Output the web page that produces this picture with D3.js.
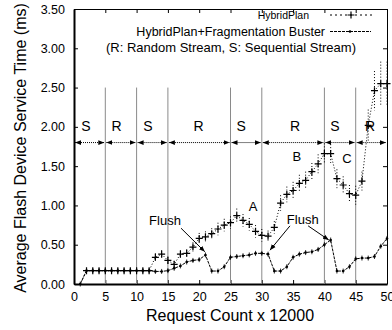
<!DOCTYPE html>
<html>
<head>
<meta charset="utf-8">
<script src="https://d3js.org/d3.v7.min.js"></script>
<style>
  body { margin: 0; background: #fff; }
  svg { font-family: "Liberation Sans", Arial, sans-serif; }
</style>
</head>
<body>
<div id="chart"></div>
<script>
// x = request count (x 12000)
var requestCount = [1,2,3,4,5,6,7,8,9,10,11,12,13,14,15,16,17,18,19,20,
                    21,22,23,24,25,26,27,28,29,30,31,32,33,34,35,36,37,38,39,40,
                    41,42,43,44,45,46,47,48,49,50];
// average service time (ms)
var hybridPlan = [0,0.17,0.17,0.17,0.17,0.17,0.17,0.17,0.17,0.17,0.17,0.17,0.34,0.38,0.30,0.25,0.38,0.39,0.47,0.58,
                  0.60,0.64,0.70,0.75,0.78,0.87,0.81,0.76,0.67,0.62,0.61,0.72,1.03,1.14,1.19,1.28,1.32,1.43,1.53,1.66,
                  1.66,1.34,1.26,1.15,1.13,1.31,2.02,2.46,2.55,2.55];
var hybridPlanErr = [0,0,0,0,0,0,0,0,0,0,0,0,0.05,0.05,0.05,0.04,0.05,0.05,0.06,0.07,
                     0.07,0.07,0.08,0.08,0.08,0.09,0.08,0.08,0.08,0.08,0.07,0.08,0.10,0.10,0.11,0.11,0.11,0.11,0.12,0.13,
                     0.12,0.12,0.11,0.11,0.12,0.12,0.20,0.25,0.28,0.28];
var fragBuster = [0,0.17,0.17,0.17,0.17,0.17,0.17,0.17,0.17,0.17,0.17,0.17,0.16,0.16,0.17,0.20,0.23,0.28,0.30,0.31,
                  0.37,0.165,0.165,0.22,0.34,0.35,0.36,0.37,0.39,0.39,0.38,0.165,0.165,0.22,0.34,0.38,0.40,0.41,0.44,0.50,
                  0.56,0.165,0.165,0.22,0.32,0.33,0.33,0.35,0.48,0.58];

var xTicks = [0,5,10,15,20,25,30,35,40,45,50];
var yTicks = [0,0.5,1,1.5,2,2.5,3,3.5];

// stream phases
var streamBounds = [0,5,10,15,25,30,40,45,50];
var streamTypes = ["S","R","S","R","S","R","S","R"];
var streamLabelAt = [1.9,6.8,11.8,19.9,26.7,35.3,41.7,47.3];

// annotations (data units)
var noteText = ["Flush","Flush","A","B","C"];
var noteX = [12.0,34.0,28.6,35.6,43.6];
var noteY = [0.75,0.76,0.935,1.56,1.54];
var flushArrows = [[17.1,0.71,20.9,0.41],[34.5,0.74,31.3,0.43],[37.4,0.74,40.7,0.56]];

var margin = {top: 9, right: 5, bottom: 46, left: 74},
    width = 392 - margin.left - margin.right,
    height = 330 - margin.top - margin.bottom;

var root = d3.select("#chart").append("svg")
    .attr("width", 392)
    .attr("height", 330);

var defs = root.append("defs");
defs.append("marker").attr("id", "head")
    .attr("viewBox", "0 0 10 10").attr("refX", 10).attr("refY", 5)
    .attr("markerWidth", 6).attr("markerHeight", 6).attr("markerUnits", "userSpaceOnUse")
    .attr("orient", "auto-start-reverse")
  .append("path").attr("d", "M0,1L10,5L0,9Z").attr("fill", "#000");

var svg = root.append("g")
    .attr("transform", "translate(" + margin.left + "," + margin.top + ")");

var x = d3.scaleLinear().domain([0, 50]).range([0, width]);
var y = d3.scaleLinear().domain([0, 3.5]).range([height, 0]);

// axes (gnuplot style, ticks inward and mirrored)
svg.append("g")
    .attr("transform", "translate(0," + height + ")")
    .call(d3.axisBottom(x).tickValues(xTicks).tickSizeInner(-4).tickSizeOuter(0).tickPadding(8))
    .call(function(g) { g.select(".domain").attr("stroke-width", 2); });
svg.append("g")
    .call(d3.axisLeft(y).tickValues(yTicks).tickFormat(d3.format(".2f")).tickSizeInner(-4).tickSizeOuter(0).tickPadding(9))
    .call(function(g) { g.select(".domain").attr("stroke-width", 2); });
svg.append("g")
    .call(d3.axisTop(x).tickValues(xTicks).tickSizeInner(-4).tickSizeOuter(0).tickFormat(""));
svg.append("g")
    .attr("transform", "translate(" + width + ",0)")
    .call(d3.axisRight(y).tickValues(yTicks).tickSizeInner(-4).tickSizeOuter(0).tickFormat(""));

svg.selectAll(".tick text")
    .attr("font-size", "12.5px")
    .attr("font-family", "Liberation Sans, Arial, sans-serif")
    .attr("fill", "#000");

// axis titles
root.append("text")
    .attr("x", 230).attr("y", 321)
    .attr("text-anchor", "middle")
    .style("font-size", "16px")
    .text("Request Count x 12000");
root.append("text")
    .attr("transform", "translate(26,148)rotate(-90)")
    .attr("text-anchor", "middle")
    .style("font-size", "16px")
    .text("Average Flash Device Service Time (ms)");

// stream phase dividers
svg.selectAll(".divider")
    .data(streamBounds.slice(1, -1))
  .enter().append("line")
    .attr("x1", function(d) { return x(d); })
    .attr("x2", function(d) { return x(d); })
    .attr("y1", y(2.5))
    .attr("y2", y(0))
    .attr("stroke", "#8a8a8a")
    .attr("stroke-width", 1);

// double headed arrows per phase
svg.selectAll(".phase")
    .data(streamTypes)
  .enter().append("line")
    .attr("x1", function(d, i) { return x(streamBounds[i]) + 1; })
    .attr("x2", function(d, i) { return x(streamBounds[i + 1]) - 1; })
    .attr("y1", y(1.8))
    .attr("y2", y(1.8))
    .attr("stroke", "#000")
    .attr("stroke-width", 1)
    .attr("stroke-dasharray", "1,1")
    .attr("marker-start", "url(#head)")
    .attr("marker-end", "url(#head)");

svg.selectAll(".phaseLabel")
    .data(streamTypes)
  .enter().append("text")
    .attr("x", function(d, i) { return x(streamLabelAt[i]); })
    .attr("y", y(1.8) - 12)
    .attr("text-anchor", "middle")
    .style("font-size", "14px")
    .text(function(d) { return d; });

// HybridPlan + Fragmentation Buster
var fbLine = d3.line()
    .x(function(d, i) { return x(requestCount[i]); })
    .y(function(d) { return y(d); });
svg.append("path")
    .datum(fragBuster)
    .attr("fill", "none")
    .attr("stroke", "#000")
    .attr("stroke-width", 1)
    .attr("stroke-dasharray", "3,1")
    .attr("d", fbLine);
svg.selectAll(".fbTick")
    .data(fragBuster)
  .enter().append("line")
    .attr("x1", function(d, i) { return x(requestCount[i]); })
    .attr("x2", function(d, i) { return x(requestCount[i]); })
    .attr("y1", function(d) { return y(d) - 2.5; })
    .attr("y2", function(d) { return y(d) + 2.5; })
    .attr("stroke", "#000")
    .attr("stroke-width", 0.8);
svg.selectAll(".fbDot")
    .data(fragBuster)
  .enter().append("circle")
    .attr("cx", function(d, i) { return x(requestCount[i]); })
    .attr("cy", function(d) { return y(d); })
    .attr("r", 1.3)
    .attr("fill", "#000");

// HybridPlan
var hpLine = d3.line()
    .x(function(d, i) { return x(requestCount[i]); })
    .y(function(d) { return y(d); });
svg.append("path")
    .datum(hybridPlan)
    .attr("fill", "none")
    .attr("stroke", "#000")
    .attr("stroke-width", 1)
    .attr("stroke-dasharray", "1,2")
    .attr("d", hpLine);
svg.selectAll(".hpErr")
    .data(hybridPlan)
  .enter().append("line")
    .attr("x1", function(d, i) { return x(requestCount[i]); })
    .attr("x2", function(d, i) { return x(requestCount[i]); })
    .attr("y1", function(d, i) { return y(d + hybridPlanErr[i]); })
    .attr("y2", function(d, i) { return y(d - hybridPlanErr[i]); })
    .attr("stroke", "#000")
    .attr("stroke-width", 1)
    .attr("stroke-dasharray", "1,2");
svg.selectAll(".hpMark")
    .data(hybridPlan.slice(1))
  .enter().append("path")
    .attr("transform", function(d, i) { return "translate(" + x(requestCount[i + 1]) + "," + y(d) + ")"; })
    .attr("d", "M-3.5,0H3.5M0,-3.5V3.5")
    .attr("stroke", "#000")
    .attr("stroke-width", 1.2);

// annotations
svg.selectAll(".note")
    .data(noteText)
  .enter().append("text")
    .attr("x", function(d, i) { return x(noteX[i]); })
    .attr("y", function(d, i) { return y(noteY[i]); })
    .attr("text-anchor", function(d) { return d == "Flush" ? "start" : "middle"; })
    .style("font-size", "13px")
    .text(function(d) { return d; });
svg.selectAll(".flushArrow")
    .data(flushArrows)
  .enter().append("line")
    .attr("x1", function(d) { return x(d[0]); })
    .attr("y1", function(d) { return y(d[1]); })
    .attr("x2", function(d) { return x(d[2]); })
    .attr("y2", function(d) { return y(d[3]); })
    .attr("stroke", "#000")
    .attr("stroke-width", 1)
    .attr("marker-end", "url(#head)");

// legend
var lg = root.append("g");
lg.append("text").attr("x", 309).attr("y", 19).attr("text-anchor", "end")
    .style("font-size", "10.5px").text("HybridPlan");
lg.append("line").attr("x1", 330).attr("x2", 372).attr("y1", 15).attr("y2", 15)
    .attr("stroke", "#000").attr("stroke-dasharray", "2,3");
lg.append("path").attr("d", "M347.5,15H354.5M351,11.5V18.5")
    .attr("stroke", "#000").attr("stroke-width", 1.2);
lg.append("text").attr("x", 325).attr("y", 35.5).attr("text-anchor", "end")
    .style("font-size", "12.5px").text("HybridPlan+Fragmentation Buster");
lg.append("line").attr("x1", 330).attr("x2", 371).attr("y1", 31.5).attr("y2", 31.5)
    .attr("stroke", "#000").attr("stroke-dasharray", "3,1");
lg.append("circle").attr("cx", 350).attr("cy", 31.5).attr("r", 1.3).attr("fill", "#000");
lg.append("text").attr("x", 231).attr("y", 52).attr("text-anchor", "middle")
    .style("font-size", "13px").text("(R: Random Stream, S: Sequential Stream)");
</script>
</body>
</html>
